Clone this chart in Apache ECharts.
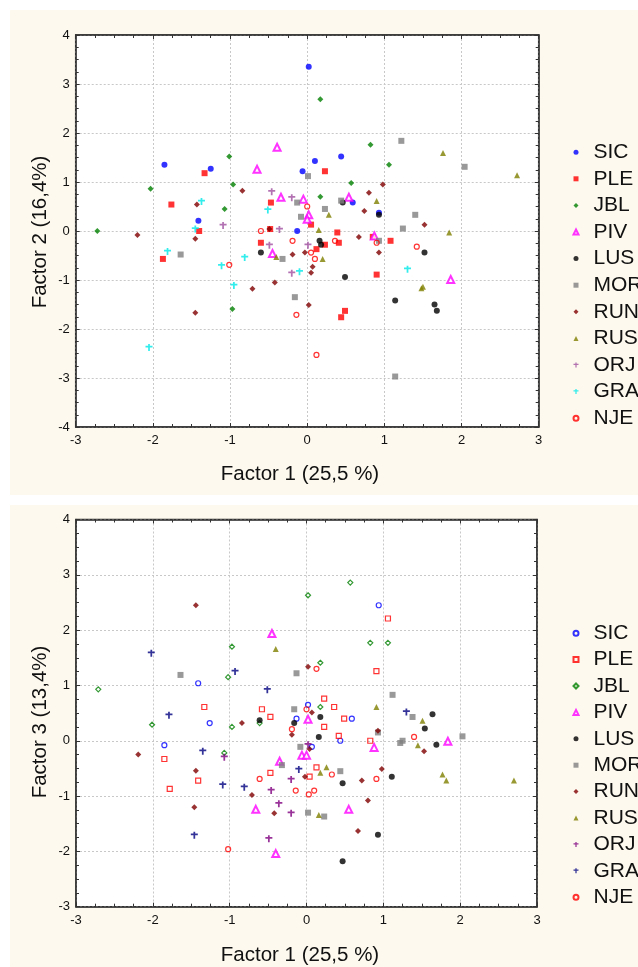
<!DOCTYPE html>
<html>
<head>
<meta charset="utf-8">
<script src="https://cdn.jsdelivr.net/npm/echarts@6/dist/echarts.min.js"></script>
<style>
  html, body { margin: 0; padding: 0; background: #ffffff; width: 638px; height: 967px; overflow: hidden; }
  #top, #bottom { position: absolute; background: #fdf9ee; }
  #top { left: 10px; top: 10px; width: 628px; height: 485px; }
  #bottom { left: 10px; top: 505px; width: 628px; height: 462px; }
</style>
</head>
<body>
<div id="top"></div>
<div id="bottom"></div>
<script>
// ---------- DATA ----------
const groups = ['SIC', 'PLE', 'JBL', 'PIV', 'LUS', 'MOR', 'RUN', 'RUS', 'ORJ', 'GRA', 'NJE'];
const xTicks = [-3, -2, -1, 0, 1, 2, 3];
const yTicksTop = [-4, -3, -2, -1, 0, 1, 2, 3, 4];
const yTicksBottom = [-3, -2, -1, 0, 1, 2, 3, 4];

// Factor 1 vs Factor 2
const f12_SIC = [[-1.85,1.35],[-1.25,1.27],[-1.41,0.21],[-0.06,1.22],[0.02,3.35],[0.10,1.43],[0.44,1.52],[0.59,0.58],[0.93,0.37],[-0.13,0.0]];
const f12_PLE = [[-1.33,1.18],[-1.76,0.54],[-0.47,0.58],[0.23,1.22],[0.05,0.13],[-1.87,-0.57],[-1.40,0.0],[-0.60,-0.24],[-0.48,0.04],[0.39,-0.03],[0.41,-0.24],[0.23,-0.28],[0.12,-0.37],[1.08,-0.20],[0.85,-0.12],[0.90,-0.89],[0.49,-1.63],[0.44,-1.76]];
const f12_JBL = [[-2.03,0.86],[-1.01,1.52],[-0.96,0.95],[-1.07,0.45],[-2.72,0.0],[-0.97,-1.59],[0.17,2.69],[0.82,1.76],[1.06,1.35],[0.57,0.98],[0.17,0.70]];
const f12_PIV = [[-0.39,1.71],[-0.65,1.26],[-0.34,0.69],[-0.05,0.65],[0.02,0.33],[0.0,0.24],[0.54,0.69],[-0.45,-0.46],[0.87,-0.10],[1.86,-0.99]];
const f12_LUS = [[-0.60,-0.44],[0.16,-0.20],[0.18,-0.28],[1.52,-0.44],[0.49,-0.94],[1.14,-1.42],[1.65,-1.50],[1.68,-1.63],[0.46,0.58],[0.93,0.33]];
const f12_MOR = [[0.01,1.12],[-0.13,0.58],[-0.08,0.29],[1.22,1.84],[2.04,1.31],[0.44,0.62],[0.23,0.45],[1.40,0.33],[1.24,0.05],[-1.64,-0.48],[-0.32,-0.57],[-0.16,-1.35],[0.93,-0.20],[1.14,-2.97]];
const f12_RUN = [[-1.43,0.54],[-0.84,0.82],[0.98,0.95],[0.80,0.78],[0.74,0.41],[1.52,0.13],[-2.20,-0.08],[-1.45,-0.16],[-0.49,0.04],[-0.19,-0.48],[-0.03,-0.44],[-0.42,-1.05],[-0.71,-1.18],[-1.45,-1.67],[0.02,-1.51],[0.67,-0.12],[0.93,-0.44],[0.07,-0.73],[0.05,-0.85]];
const f12_RUS = [[1.76,1.59],[2.72,1.14],[0.90,0.61],[0.28,0.33],[0.15,0.02],[-0.40,-0.53],[0.20,-0.57],[1.84,-0.03],[1.48,-1.17],[1.50,-1.14]];
const f12_ORJ = [[-0.46,0.80],[-0.20,0.68],[-0.36,0.03],[-1.09,0.11],[-0.49,-0.29],[-0.20,-0.86],[0.01,-0.29]];
const f12_GRA = [[-1.37,0.60],[-0.51,0.43],[-1.45,0.04],[-1.81,-0.42],[-1.11,-0.71],[-0.81,-0.54],[-0.10,-0.83],[-0.95,-1.11],[-2.05,-2.38],[1.30,-0.78]];
const f12_NJE = [[0.0,0.50],[-0.60,0.0],[-0.19,-0.20],[-1.01,-0.69],[-0.14,-1.71],[0.05,-0.44],[0.10,-0.57],[0.36,-0.20],[0.90,-0.24],[1.42,-0.32],[0.12,-2.53]];

// Factor 1 vs Factor 3
const f13_SIC = [[-1.41,1.04],[-0.13,0.40],[0.02,0.65],[0.94,2.45],[0.59,0.40],[-1.26,0.32],[-1.85,-0.08],[0.44,0.0],[0.07,-0.11]];
const f13_PLE = [[-1.33,0.61],[-0.58,0.57],[-0.47,0.43],[1.06,2.21],[0.91,1.26],[0.23,0.76],[0.36,0.61],[0.49,0.40],[-1.85,-0.33],[-1.78,-0.87],[-1.41,-0.72],[-0.47,-0.58],[0.23,0.25],[0.42,0.09],[0.83,0.0],[0.13,-0.48],[0.04,-0.65]];
const f13_JBL = [[-2.71,0.93],[-0.97,1.70],[-1.02,1.15],[0.02,2.63],[0.57,2.86],[0.83,1.77],[1.06,1.77],[0.18,1.41],[0.18,0.61],[-2.01,0.29],[-0.97,0.25],[-1.07,-0.22],[-0.61,0.32]];
const f13_PIV = [[-0.45,1.94],[0.02,0.39],[-0.35,-0.37],[-0.66,-1.24],[-0.40,-2.04],[-0.06,-0.26],[0.0,-0.26],[0.88,-0.12],[0.55,-1.24],[1.84,-0.01]];
const f13_LUS = [[-0.61,0.37],[0.18,0.43],[-0.16,0.32],[0.16,0.07],[1.64,0.48],[1.54,0.22],[1.69,-0.07],[1.11,-0.65],[0.47,-0.77],[0.93,-1.70],[0.47,-2.18]];
const f13_MOR = [[-1.64,1.19],[-0.13,1.22],[-0.16,0.57],[1.12,0.83],[1.38,0.43],[-0.08,-0.11],[-0.32,-0.44],[0.02,-1.30],[0.93,0.15],[1.22,-0.04],[1.25,0.0],[2.03,0.08],[0.44,-0.55],[0.23,-1.37]];
const f13_RUN = [[-1.44,2.45],[0.02,1.34],[0.07,0.51],[-2.19,-0.25],[-1.44,-0.54],[-1.46,-1.20],[-0.84,0.32],[-0.71,-0.98],[-0.42,-1.31],[-0.19,0.11],[-0.02,-0.65],[0.04,-0.15],[0.93,0.18],[1.53,-0.19],[0.98,-0.51],[0.72,-0.72],[0.80,-1.08],[0.67,-1.63]];
const f13_RUS = [[-0.40,1.66],[0.91,0.61],[1.51,0.36],[1.45,-0.08],[0.26,-0.48],[0.18,-0.58],[1.77,-0.61],[1.82,-0.72],[2.70,-0.72],[0.16,-1.34]];
const f13_ORJ = [[-1.07,-0.30],[-0.46,-0.90],[-0.36,-1.14],[-0.20,-0.70],[-0.20,-1.31],[-0.49,-1.77],[0.02,-0.07]];
const f13_GRA = [[-2.02,1.58],[-0.93,1.25],[-0.51,0.92],[-1.79,0.46],[-1.35,-0.19],[-1.09,-0.80],[-0.81,-0.84],[-1.46,-1.71],[-0.10,-0.52],[1.30,0.52]];
const f13_NJE = [[0.0,0.57],[0.13,1.30],[-0.19,0.21],[-0.61,-0.69],[-0.14,-0.90],[0.03,-0.97],[-1.02,-1.96],[1.40,0.07],[0.33,-0.61],[0.91,-0.69],[0.10,-0.90]];

const topData = { SIC: f12_SIC, PLE: f12_PLE, JBL: f12_JBL, PIV: f12_PIV, LUS: f12_LUS, MOR: f12_MOR, RUN: f12_RUN, RUS: f12_RUS, ORJ: f12_ORJ, GRA: f12_GRA, NJE: f12_NJE };
const bottomData = { SIC: f13_SIC, PLE: f13_PLE, JBL: f13_JBL, PIV: f13_PIV, LUS: f13_LUS, MOR: f13_MOR, RUN: f13_RUN, RUS: f13_RUS, ORJ: f13_ORJ, GRA: f13_GRA, NJE: f13_NJE };

// ---------- STYLES ----------
const CROSS = 'path://M3,0L5,0L5,2L8,2L8,4L5,4L5,8L3,8L3,4L0,4L0,2L3,2Z';
function filled(symbol, size, color) { return { symbol, size, itemStyle: { color: color } }; }
function open(symbol, size, color, bw) { return { symbol, size, itemStyle: { color: 'rgba(255,255,255,0)', borderColor: color, borderWidth: bw || 1 } }; }
function piv(size) { return { symbol: 'triangle', size, itemStyle: { color: '#ffffff', borderColor: '#ff00ff', borderWidth: 2 } }; }
const topStyles = {
  SIC: filled('circle', 6, '#0000ff'),
  PLE: filled('rect', 6, '#ff0000'),
  JBL: filled('diamond', 6, '#008000'),
  PIV: piv(7),
  LUS: filled('circle', 6, '#000000'),
  MOR: filled('rect', 6, '#808080'),
  RUN: filled('diamond', 6, '#800000'),
  RUS: filled('triangle', 6, '#808000'),
  ORJ: filled(CROSS, 7, '#a050a0'),
  GRA: filled(CROSS, 7, '#00e8e8'),
  NJE: open('circle', 5, '#ff0000', 1.2)
};
const bottomStyles = {
  SIC: open('circle', 5, '#0000ff', 1.2),
  PLE: open('rect', 5, '#ff0000', 1.2),
  JBL: open('diamond', 5, '#008000', 1.2),
  PIV: piv(7),
  LUS: filled('circle', 6, '#000000'),
  MOR: filled('rect', 6, '#808080'),
  RUN: filled('diamond', 6, '#800000'),
  RUS: filled('triangle', 6, '#808000'),
  ORJ: filled(CROSS, 7, '#800080'),
  GRA: filled(CROSS, 7, '#000080'),
  NJE: open('circle', 5, '#ff0000', 1.2)
};

const FONT = 'Liberation Sans, Arial, sans-serif';

function makeOption(cfg) {
  const axisLine = { show: true, onZero: false, lineStyle: { color: '#333', width: 1.5 } };
  const tick = { show: true, inside: true, length: 4, lineStyle: { color: '#333', width: 1 } };
  const minor = { show: true, splitNumber: 4, length: 3, lineStyle: { color: '#333', width: 1 } };
  const split = { show: true, lineStyle: { color: '#c8c8c8', type: [2, 2], width: 1 } };
  const series = groups.map(g => ({
    type: 'scatter', name: g, data: cfg.data[g],
    symbol: cfg.styles[g].symbol, symbolSize: cfg.styles[g].size,
    itemStyle: cfg.styles[g].itemStyle,
    xAxisIndex: 0, yAxisIndex: 0, animation: false, silent: true
  }));
  return {
    animation: false,
    backgroundColor: 'transparent',
    textStyle: { fontFamily: FONT },
    grid: { left: cfg.grid.left, top: cfg.grid.top, width: cfg.grid.width, height: cfg.grid.height, show: true, backgroundColor: '#ffffff', borderColor: '#333', borderWidth: 1.5 },
    xAxis: [
      { type: 'value', position: 'bottom', min: xTicks[0], max: xTicks[xTicks.length - 1], interval: 1,
        axisLine, axisTick: tick, minorTick: minor, splitLine: split,
        axisLabel: { show: true, fontSize: 13, color: '#111', margin: 7, fontFamily: FONT } },
      { type: 'value', position: 'top', min: xTicks[0], max: xTicks[xTicks.length - 1], interval: 1,
        axisLine, axisTick: tick, minorTick: minor, splitLine: { show: false }, axisLabel: { show: false } }
    ],
    yAxis: [
      { type: 'value', position: 'left', min: cfg.yTicks[0], max: cfg.yTicks[cfg.yTicks.length - 1], interval: 1,
        axisLine, axisTick: tick, minorTick: minor, splitLine: split,
        axisLabel: { show: true, fontSize: 13, color: '#111', margin: 6, fontFamily: FONT } },
      { type: 'value', position: 'right', min: cfg.yTicks[0], max: cfg.yTicks[cfg.yTicks.length - 1], interval: 1,
        axisLine, axisTick: tick, minorTick: minor, splitLine: { show: false }, axisLabel: { show: false } }
    ],
    legend: {
      data: groups, orient: 'vertical', left: cfg.legend.left, top: cfg.legend.top,
      padding: 0, itemGap: cfg.legend.gap, itemWidth: 5, itemHeight: 5,
      selectedMode: false,
      textStyle: { fontSize: 21, color: '#111', fontFamily: FONT, lineHeight: 21, padding: [0, 0, 0, 10] }
    },
    graphic: [
      { type: 'text', x: cfg.xNamePos[0], y: cfg.xNamePos[1], silent: true,
        style: { text: cfg.xName, fontSize: 20.5, fontFamily: FONT, fill: '#111', align: 'center', verticalAlign: 'middle' } },
      { type: 'text', x: cfg.yNamePos[0], y: cfg.yNamePos[1], rotation: Math.PI / 2, silent: true,
        style: { text: cfg.yName, fontSize: 20.5, fontFamily: FONT, fill: '#111', align: 'center', verticalAlign: 'middle' } }
    ],
    series
  };
}

const topChart = echarts.init(document.getElementById('top'), null, { renderer: 'canvas' });
topChart.setOption(makeOption({
  data: topData, styles: topStyles, yTicks: yTicksTop,
  grid: { left: 65.7, top: 25, width: 463, height: 392 },
  legend: { left: 562.5, top: 131.7, gap: 5.6 },
  xName: 'Factor 1 (25,5 %)', xNamePos: [290, 464],
  yName: 'Factor 2 (16,4%)', yNamePos: [30, 222]
}));

const bottomChart = echarts.init(document.getElementById('bottom'), null, { renderer: 'canvas' });
bottomChart.setOption(makeOption({
  data: bottomData, styles: bottomStyles, yTicks: yTicksBottom,
  grid: { left: 66, top: 14.5, width: 461, height: 387.2 },
  legend: { left: 562.5, top: 117.7, gap: 5.4 },
  xName: 'Factor 1 (25,5 %)', xNamePos: [290, 450],
  yName: 'Factor 3 (13,4%)', yNamePos: [30, 217]
}));
</script>
</body>
</html>
